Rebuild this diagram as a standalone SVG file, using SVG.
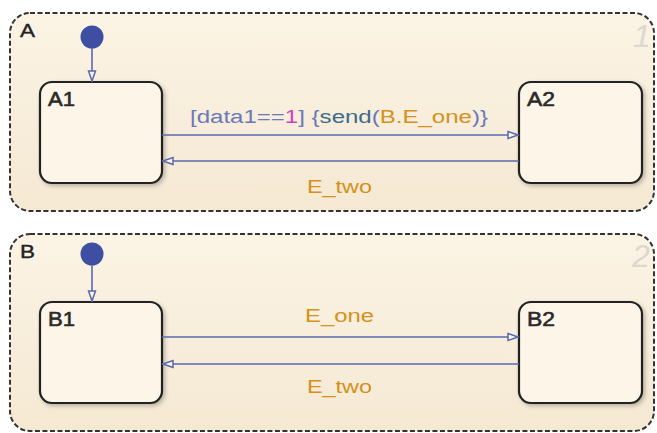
<svg xmlns="http://www.w3.org/2000/svg" width="657" height="433" viewBox="0 0 657 433">
<defs>
<linearGradient id="gOuter" x1="0" y1="0" x2="0" y2="1">
<stop offset="0" stop-color="#fbf3e4"/><stop offset="1" stop-color="#f5e9d3"/>
</linearGradient>
<filter id="sh" x="-10%" y="-10%" width="130%" height="130%">
<feDropShadow dx="2" dy="2" stdDeviation="2" flood-color="#000" flood-opacity="0.25"/>
</filter>
<marker id="arr" viewBox="0 0 12 10" refX="12" refY="5" markerWidth="12" markerHeight="10" markerUnits="userSpaceOnUse" orient="auto">
<path d="M1,1.5 L11,5 L1,8.5 Z" fill="#fbf3e4" stroke="#5a68b2" stroke-width="1.5"/>
</marker>
</defs>
<style>
.outer{fill:url(#gOuter);stroke:#333;stroke-width:2;stroke-dasharray:5 2.5}
.state{fill:#fdf6e8;stroke:#222;stroke-width:2.2;filter:url(#sh)}
.lbl{font-family:"Liberation Sans",Arial,sans-serif;font-size:19px;fill:#222;stroke:#222;stroke-width:0.4}
.sl{font-family:"Liberation Sans",Arial,sans-serif;font-size:20px;fill:#2a2a2a;stroke:#2a2a2a;stroke-width:0.6}
.wm{font-family:"Liberation Sans",Arial,sans-serif;font-size:32px;font-style:italic;fill:#dcd8d0}
.tr{fill:none;stroke:#5a68b2;stroke-width:1.6;marker-end:url(#arr)}
.dot{fill:#3d4ea3}
.tl{font-family:"Liberation Sans",Arial,sans-serif;font-size:18px}
.ev{fill:#d4911c}
</style>
<rect width="657" height="433" fill="#ffffff"/>
<g id="A">
<rect class="outer" x="10" y="13" width="644" height="198" rx="20"/>
<text class="lbl" x="20" y="37" textLength="15" lengthAdjust="spacingAndGlyphs">A</text>
<text class="wm" x="633" y="47">1</text>
</g>
<g id="A1">
<rect class="state" x="40" y="82" width="122" height="101" rx="12"/>
<text class="sl" x="48" y="106" textLength="27" lengthAdjust="spacingAndGlyphs">A1</text>
</g>
<g id="A2">
<rect class="state" x="519" y="82" width="123" height="101" rx="12"/>
<text class="sl" x="527" y="106" textLength="28" lengthAdjust="spacingAndGlyphs">A2</text>
</g>
<g id="B">
<rect class="outer" x="10" y="234" width="644" height="197" rx="20"/>
<text class="lbl" x="20" y="258" textLength="15" lengthAdjust="spacingAndGlyphs">B</text>
<text class="wm" x="632" y="267" font-style="normal" font-size="27">2</text>
</g>
<g id="B1">
<rect class="state" x="40" y="302" width="122" height="101" rx="12"/>
<text class="sl" x="48" y="326" textLength="27" lengthAdjust="spacingAndGlyphs">B1</text>
</g>
<g id="B2">
<rect class="state" x="519" y="302" width="123" height="101" rx="12"/>
<text class="sl" x="527" y="326" textLength="28" lengthAdjust="spacingAndGlyphs">B2</text>
</g>
<g id="connectors">
<circle class="dot" cx="92" cy="37" r="11.5"/>
<path class="tr" d="M92,48 V82"/>
<circle class="dot" cx="92" cy="254" r="11.5"/>
<path class="tr" d="M92,265 V302"/>
<path class="tr" d="M162,135 H519"/>
<path class="tr" d="M519,161 H162"/>
<path class="tr" d="M162,337 H519"/>
<path class="tr" d="M519,364 H162"/>
<text class="tl" x="190" y="123" textLength="298" lengthAdjust="spacingAndGlyphs"><tspan fill="#6b79b9">[data1==</tspan><tspan fill="#d23fbf">1</tspan><tspan fill="#6b79b9">] {</tspan><tspan fill="#3b6c8c">send</tspan><tspan fill="#6b79b9">(</tspan><tspan class="ev">B.E_one</tspan><tspan fill="#6b79b9">)}</tspan></text>
<text class="tl ev" x="307" y="193" textLength="65" lengthAdjust="spacingAndGlyphs">E_two</text>
<text class="tl ev" x="305" y="322" textLength="69" lengthAdjust="spacingAndGlyphs">E_one</text>
<text class="tl ev" x="307" y="393" textLength="65" lengthAdjust="spacingAndGlyphs">E_two</text>
</g>
</svg>
